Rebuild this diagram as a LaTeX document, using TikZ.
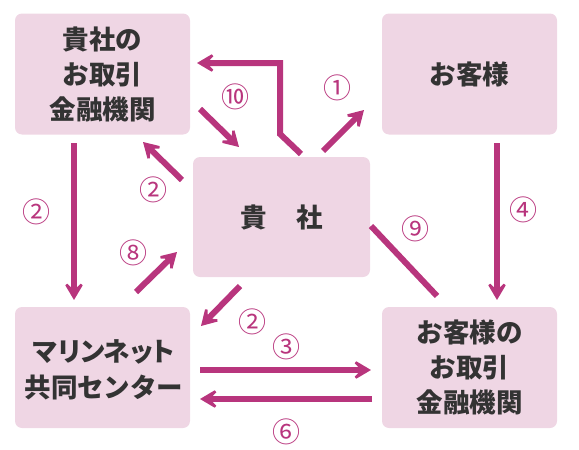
\documentclass[tikz,border=0pt]{standalone}
\usepackage{fontspec}
\setmainfont{Noto Sans CJK JP}
\usetikzlibrary{arrows.meta}
\definecolor{boxfill}{HTML}{EFD6E4}
\definecolor{arrcol}{HTML}{B8357D}
\definecolor{txtcol}{HTML}{333333}
\begin{document}
\begin{tikzpicture}[x=1pt,y=-1pt,
  box/.style={fill=boxfill, rounded corners=7pt, minimum width=175pt, minimum height=121pt,
    inner sep=0pt, align=center, text=txtcol, font=\fontsize{26.5}{35}\selectfont\bfseries},
  arr/.style={draw=arrcol, line width=6pt, miter limit=3,
    -{Stealth[length=22pt,width=26pt,inset=12pt]}},
  plain/.style={draw=arrcol, line width=6pt},
  lbl/.style={text=arrcol, font=\fontsize{28}{28}\selectfont, inner sep=0pt}]
\useasboundingbox (0,0) rectangle (579,450);
% connectors (drawn first)
\coordinate (a2s) at (74,143); \coordinate (a2e) at (74,300);
\coordinate (t0) at (301,154); \coordinate (t1) at (280,134);
\coordinate (t2) at (280,63); \coordinate (t3) at (197,63);
\coordinate (u0) at (200,109); \coordinate (u1) at (239,147);
\coordinate (v0) at (182,180); \coordinate (v1) at (143,142);
\coordinate (w0) at (323,151); \coordinate (w1) at (364,110);
\coordinate (f0) at (497,143); \coordinate (f1) at (497,300);
\coordinate (n0) at (371,226); \coordinate (n1) at (437,296);
\coordinate (e0) at (136,292); \coordinate (e1) at (177,252);
\coordinate (d0) at (240,286); \coordinate (d1) at (201,326);
\coordinate (h0) at (200,370); \coordinate (h1) at (371,370);
\coordinate (s0) at (372,399); \coordinate (s1) at (200,399);
% boxes
\node[box] (A) at (102.5,74) {貴社の\\お取引\\金融機関};
\node[box] (B) at (469.5,74) {お客様};
\node[box, minimum width=177pt, minimum height=120pt] (C) at (281.5,217) {貴\hspace{30pt}社};
\node[box] (D) at (102.5,367.5) {};
\node[text=txtcol, align=center, inner sep=0pt, font=\fontsize{26.5}{36}\selectfont\bfseries]
  (Dt) at (104,370) {{\addfontfeature{RawFeature=+palt}マリンネット}\\共同センター};
\node[box] (E) at (469.5,367.5) {お客様の\\お取引\\金融機関};
% arrows
\draw[arr] (a2s) -- (a2e);
\draw[arr] (t0) -- (t1) -- (t2) -- (t3);
\draw[arr] (u0) -- (u1);
\draw[arr] (v0) -- (v1);
\draw[arr] (w0) -- (w1);
\draw[arr] (f0) -- (f1);
\draw[plain] (n0) -- (n1);
\draw[arr] (e0) -- (e1);
\draw[arr] (d0) -- (d1);
\draw[arr] (h0) -- (h1);
\draw[arr] (s0) -- (s1);
% labels
\node[lbl] (l1) at (37,212) {②};
\node[lbl] (l2) at (235,97) {⑩};
\node[lbl] (l3) at (153,190) {②};
\node[lbl] (l4) at (337,88) {①};
\node[lbl] (l5) at (523,210) {④};
\node[lbl] (l6) at (415,229) {⑨};
\node[lbl] (l7) at (133,253) {⑧};
\node[lbl] (l8) at (252,322) {②};
\node[lbl] (l9) at (286,347) {③};
\node[lbl] (l10) at (286,432) {⑥};
\end{tikzpicture}
\end{document}
